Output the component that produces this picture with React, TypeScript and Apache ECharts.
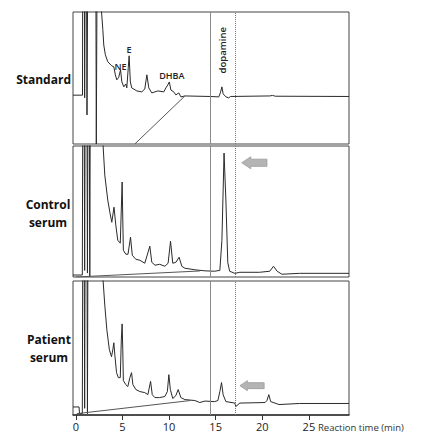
import React, { useEffect, useRef } from "react";
import * as echarts from "echarts";

// Retention time (min) and detector signal (arbitrary units, 0-100 = panel height)
const standardTime = [-0.3, 0.72, 0.74, 0.92, 0.95, 1.0, 1.15, 1.2, 1.28, 2.15, 2.2, 2.28, 2.7,
  2.76, 2.9, 3.0, 3.17, 3.43, 3.86, 4.08, 4.24, 4.4, 4.6, 4.8, 4.94, 5.15, 5.36, 5.47, 5.63, 5.72, 5.85, 6.0,
  6.55, 7.08, 7.4, 7.62, 7.83, 8.15, 8.8, 9.44, 9.66, 9.87, 10.03, 10.2, 10.5, 10.73, 11.05, 11.27, 11.7,
  14.4, 15.34, 15.5, 15.67, 15.8, 16.1, 16.4, 16.6, 20.8, 21.1, 21.4, 29.3];
const standardSignal = [37, 37, 130, 130, 35, 130, 130, 22, 130, 130, 0, 130, 130,
  100, 86.6, 75, 67.6, 62.3, 59.2, 58.5, 52.4, 48.6, 50.5, 56.2, 47, 43.3, 45.5, 42.5, 58, 66.8, 47, 42.5,
  40.2, 39.5, 41.7, 52.4, 42.5, 38.7, 40.2, 39.5, 42.5, 44.8, 47, 40.9, 39.5, 37.2, 38.7, 35.7, 36.4,
  36, 35.7, 38.7, 43.3, 38, 35.7, 35, 36, 36.4, 36.8, 36.2, 36];

const controlTime = [-0.3, 0.7, 0.75, 0.9, 0.95, 1.0, 1.2, 1.25, 1.3, 1.45, 1.5, 1.55, 2.85,
  2.93, 3.11, 3.43, 3.65, 3.86, 4.1, 4.29, 4.5, 4.77, 4.97, 5.1, 5.36, 5.6, 5.87, 6.06, 6.44, 6.87, 7.4,
  7.94, 8.15, 8.5, 9.0, 9.55, 9.9, 10.16, 10.4, 10.73, 11.08, 11.37, 11.7, 12.77, 13.84, 14.9, 15.45,
  15.67, 15.9, 16.1, 16.3, 16.5, 17.06, 17.6, 19.7, 20.8, 21.2, 21.6, 22.1, 24.0, 29.3];
const controlSignal = [1.5, 1.5, 130, 130, 5, 130, 130, 3, 130, 130, 0.5, 130, 130,
  100, 77.8, 58.7, 49.5, 41.8, 53.3, 39.6, 28.1, 25.8, 72.5, 20.4, 17.4, 17.4, 30.4, 16.6, 13.5, 12.8, 10.5,
  23.5, 11.2, 9, 9.7, 8.2, 10.5, 27.3, 10.5, 11.2, 15.1, 8.2, 6.7, 5.5, 4.7, 4.4, 5.1,
  28, 94.6, 58, 11, 4.4, 2.8, 3.6, 3.6, 4.4, 8.2, 4.4, 2.1, 2.8, 2.8];

const patientTime = [-0.3, 0.35, 0.4, 0.7, 0.75, 0.9, 0.95, 1.0, 1.2, 1.25, 1.3, 2.85,
  2.93, 3.11, 3.33, 3.6, 3.83, 3.97, 4.08, 4.19, 4.37, 4.56, 4.77, 4.88, 4.97, 5.04, 5.1, 5.36, 5.58, 5.8,
  5.98, 6.12, 6.44, 6.87, 7.4, 7.73, 8.02, 8.2, 8.48, 9.0, 9.55, 9.82, 9.98, 10.14, 10.4, 10.73, 10.98,
  11.27, 11.7, 12.77, 13.3, 13.84, 14.9, 15.24, 15.45, 15.63, 15.8, 16.1, 17.06, 17.15, 17.6, 20.3, 20.5,
  20.7, 20.9, 21.8, 24.0, 29.3];
const patientSignal = [6, 6, 1, 1, 130, 130, 5, 130, 130, 1, 130, 130,
  100, 82, 63.6, 48.7, 43.5, 48.7, 53.9, 44.6, 31.6, 27.9, 27.9, 56, 68, 48.7, 25.7, 22.7, 21.2, 27.9,
  31.6, 22.7, 19, 17.5, 16.7, 15.2, 25.1, 15.2, 13, 13, 13.8, 17.5, 30.1, 19, 12.3, 14.5, 19,
  13, 11.5, 10.8, 9.3, 10.4, 10, 10.8, 17.5, 24.2, 15.2, 10, 8.9, 6.3, 8.9, 9.3, 10.8,
  15.2, 10, 7.8, 8.6, 8.6];

// Sloping baseline (gradient) lines
const standardRampTime = [6.33, 11.7];
const standardRampSignal = [0, 36.4];
const controlRampTime = [0, 13.3];
const controlRampSignal = [0, 4.6];
const patientRampTime = [0.1, 12.3];
const patientRampSignal = [1, 10.8];

const panelNames = ["Standard", "Control\nserum", "Patient\nserum"];
const windowStart = 14.45; // solid reference line
const windowEnd = 17.06; // dotted reference line
const xTicks = [0, 5, 10, 15, 20, 25];
const xTitle = "Reaction time (min)";

// Peak annotations in the Standard panel: [label, time, signal]
const peakLabels: [string, number, number][] = [
  ["NE", 4.8, 58.5],
  ["E", 5.72, 71.4],
  ["DHBA", 10.3, 51.6],
];
const dopamineLabel: [string, number, number] = ["dopamine", 15.75, 71];
// Arrows: [panel index, tip time, tail time, signal, height px]
const arrows: [number, number, number, number, number][] = [
  [1, 17.8, 20.5, 87.2, 12],
  [2, 17.6, 20.2, 21.9, 10],
];

const zip = (a: number[], b: number[]) => a.map((v, i) => [v, b[i]]);

const FONT = "'Open Sans', 'DejaVu Sans', sans-serif";

export default function App() {
  const ref = useRef<HTMLDivElement>(null);
  useEffect(() => {
    if (!ref.current) return;
    const chart = echarts.init(ref.current, null, { renderer: "svg" });
    const grids = [
      { left: 73, top: 12, width: 276, height: 132 },
      { left: 73, top: 146, width: 276, height: 131 },
      { left: 73, top: 281, width: 276, height: 134 },
    ].map((g) => ({ ...g, show: true, borderColor: "#444", borderWidth: 1, backgroundColor: "transparent" }));

    const xAxes = [0, 1, 2].map((i) => ({
      type: "value",
      gridIndex: i,
      min: -0.3,
      max: 29.3,
      splitLine: { show: false },
      axisLine: { show: i === 2, lineStyle: { color: "#333", width: 1.5 } },
      axisTick: {
        show: i === 2,
        length: 5,
        lineStyle: { color: "#333" },
        customValues: xTicks,
      },
      axisLabel: {
        show: i === 2,
        color: "#222",
        fontSize: 11,
        fontFamily: FONT,
        margin: 6,
        customValues: xTicks,
        formatter: (v: number) => (xTicks.includes(v) ? String(v) : ""),
      },
    }));
    const yAxes = [0, 1, 2].map((i) => ({
      type: "value",
      gridIndex: i,
      min: 0,
      max: 100,
      show: false,
      splitLine: { show: false },
    }));

    const markLine = {
      silent: true,
      symbol: "none",
      label: { show: false },
      data: [
        { xAxis: windowStart, lineStyle: { type: "solid", color: "#8a8a8a", width: 1 } },
        { xAxis: windowEnd, lineStyle: { type: "dotted", color: "#777", width: 1 } },
      ],
    };
    const trace = (i: number, t: number[], s: number[]) => ({
      type: "line",
      xAxisIndex: i,
      yAxisIndex: i,
      data: zip(t, s),
      symbol: "none",
      clip: true,
      lineStyle: { color: "#2a2a2a", width: 1 },
      markLine,
    });
    const ramp = (i: number, t: number[], s: number[]) => ({
      type: "line",
      xAxisIndex: i,
      yAxisIndex: i,
      data: zip(t, s),
      symbol: "none",
      lineStyle: { color: "#555", width: 1 },
    });

    chart.setOption({
      animation: false,
      grid: grids,
      xAxis: xAxes,
      yAxis: yAxes,
      series: [
        trace(0, standardTime, standardSignal),
        trace(1, controlTime, controlSignal),
        trace(2, patientTime, patientSignal),
        ramp(0, standardRampTime, standardRampSignal),
        ramp(1, controlRampTime, controlRampSignal),
        ramp(2, patientRampTime, patientRampSignal),
      ],
    });

    const px = (gi: number, x: number, y: number) =>
      chart.convertToPixel({ gridIndex: gi } as any, [x, y]) as number[];

    const graphics: any[] = [];
    // panel names
    graphics.push({
      type: "text",
      x: 71,
      y: 79,
      style: { text: panelNames[0], font: `bold 12px ${FONT}`, fill: "#111", align: "right", verticalAlign: "middle" },
    });
    graphics.push({
      type: "text",
      x: 48,
      y: 213,
      style: { text: panelNames[1], font: `bold 12px ${FONT}`, fill: "#111", align: "center", verticalAlign: "middle", lineHeight: 18 },
    });
    graphics.push({
      type: "text",
      x: 49,
      y: 348,
      style: { text: panelNames[2], font: `bold 12px ${FONT}`, fill: "#111", align: "center", verticalAlign: "middle", lineHeight: 18 },
    });
    for (const [txt, t, s] of peakLabels) {
      const [x, y] = px(0, t, s);
      graphics.push({
        type: "text",
        x,
        y,
        style: { text: txt, font: `600 9px ${FONT}`, fill: "#222", align: "center", verticalAlign: "middle" },
      });
    }
    {
      const [x, y] = px(0, dopamineLabel[1], dopamineLabel[2]);
      graphics.push({
        type: "text",
        x,
        y,
        rotation: Math.PI / 2,
        style: { text: dopamineLabel[0], font: `600 9.5px ${FONT}`, fill: "#222", align: "center", verticalAlign: "middle" },
      });
    }
    for (const [gi, tip, tail, s, h] of arrows) {
      const [x0, yc] = px(gi, tip, s);
      const [x1] = px(gi, tail, s);
      const head = h * 0.75;
      const sh = h * 0.3;
      graphics.push({
        type: "polygon",
        shape: {
          points: [
            [x0, yc],
            [x0 + head, yc - h / 2],
            [x0 + head, yc - sh],
            [x1, yc - sh],
            [x1, yc + sh],
            [x0 + head, yc + sh],
            [x0 + head, yc + h / 2],
          ],
        },
        style: { fill: "#b4b4b4", stroke: "#9a9a9a", lineWidth: 0.8 },
      });
    }
    graphics.push({
      type: "text",
      x: 318,
      y: 427,
      style: { text: xTitle, font: `9.5px ${FONT}`, fill: "#333", align: "left", verticalAlign: "middle" },
    });
    chart.setOption({ graphic: graphics });

    return () => chart.dispose();
  }, []);
  return <div ref={ref} style={{ width: 440, height: 434, position: "absolute", left: 0, top: 0 }} />;
}
